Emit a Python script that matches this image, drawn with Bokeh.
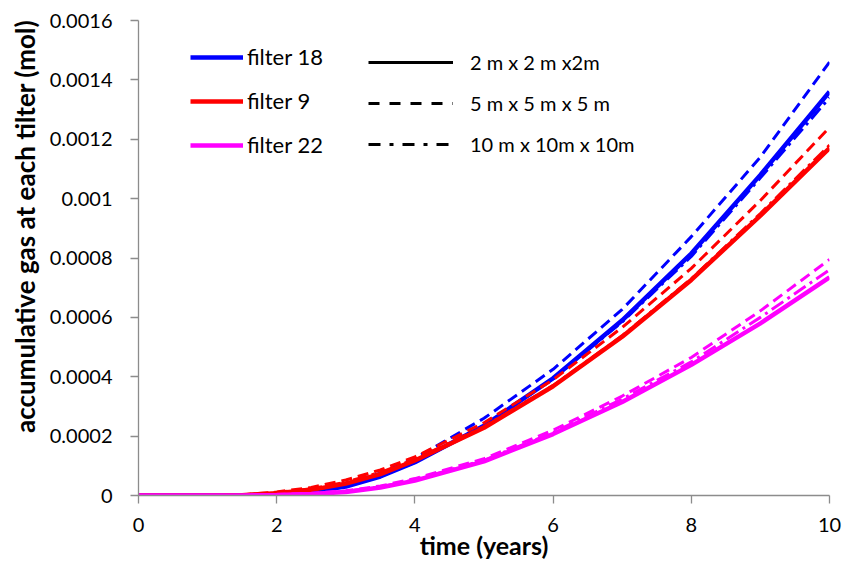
from bokeh.plotting import figure
from bokeh.models import Legend, LegendItem, Range1d, FixedTicker
from bokeh.embed import file_html
from bokeh.resources import INLINE

# ---------------- data ----------------
time = [0, 1, 1.5, 2, 2.5, 3, 3.5, 4, 5, 6, 7, 8, 9, 10]

f18_2m  = [0, 0, 0, 0.000005, 0.000013, 0.00003, 0.000064, 0.000112, 0.000235, 0.000395, 0.00059, 0.000815, 0.00108, 0.00136]
f18_5m  = [0, 0, 0, 0.000008, 0.00002, 0.00004, 0.000075, 0.000125, 0.00026, 0.000425, 0.000627, 0.000872, 0.00114, 0.00146]
f18_10m = [0, 0, 0, 0.000005, 0.000013, 0.00003, 0.000064, 0.000112, 0.000235, 0.000393, 0.000585, 0.000805, 0.00107, 0.00134]

f9_2m  = [0, 0, 0.000001, 0.000008, 0.000019, 0.00004, 0.000072, 0.000118, 0.000228, 0.000368, 0.000535, 0.000726, 0.000943, 0.00117]
f9_5m  = [0, 0, 0.000002, 0.000012, 0.000027, 0.000052, 0.000086, 0.00013, 0.000245, 0.00039, 0.000566, 0.000765, 0.000994, 0.00124]
f9_10m = [0, 0, 0.000001, 0.00001, 0.000023, 0.000045, 0.000078, 0.000122, 0.000232, 0.00037, 0.000538, 0.00073, 0.00095, 0.00118]

f22_2m  = [0, 0, 0, 0.000002, 0.000005, 0.000012, 0.000027, 0.00005, 0.000115, 0.000207, 0.000315, 0.00044, 0.00058, 0.000735]
f22_5m  = [0, 0, 0, 0.000003, 0.000007, 0.000016, 0.000032, 0.000057, 0.000124, 0.00022, 0.000335, 0.000465, 0.000622, 0.000795]
f22_10m = [0, 0, 0, 0.000002, 0.000006, 0.000014, 0.000029, 0.000053, 0.000119, 0.000212, 0.000325, 0.00045, 0.0006, 0.00076]

filter_labels = ["filter 18", "filter 9", "filter 22"]
mesh_labels = ["2 m x 2 m x2m", "5 m x 5 m x 5 m", "10 m x 10m x 10m"]

x_ticks = [0, 2, 4, 6, 8, 10]
y_ticks = [0, 0.0002, 0.0004, 0.0006, 0.0008, 0.001, 0.0012, 0.0014, 0.0016]
y_tick_labels = ["0", "0.0002", "0.0004", "0.0006", "0.0008", "0.001", "0.0012", "0.0014", "0.0016"]

x_title = "time (years)"
y_title = "accumulative gas at each tilter (mol)"

# ---------------- figure ----------------
FONT = "Lato"
p = figure(width=842, height=564, output_backend="svg", toolbar_location=None,
           x_range=Range1d(0, 10), y_range=Range1d(0, 0.0016),
           min_border_left=138, min_border_right=13, min_border_top=20, min_border_bottom=69)
p.outline_line_color = None
p.xgrid.visible = False
p.ygrid.visible = False
p.background_fill_color = "white"
p.border_fill_color = "white"

for ax in (p.xaxis[0], p.yaxis[0]):
    ax.axis_line_color = "#8c8c8c"
    ax.axis_line_width = 1.3
    ax.major_tick_line_color = "#8c8c8c"
    ax.major_tick_line_width = 1.3
    ax.major_tick_out = 8
    ax.major_tick_in = 0
    ax.minor_tick_out = 0
    ax.minor_tick_in = 0
    ax.major_label_text_font = FONT
    ax.major_label_text_font_size = "20px"
    ax.major_label_text_color = "black"
    ax.axis_label_text_font = FONT
    ax.axis_label_text_font_style = "bold"
    ax.axis_label_text_font_size = "26px"
    ax.axis_label_text_color = "black"

p.xaxis.ticker = FixedTicker(ticks=x_ticks)
p.xaxis.major_label_standoff = 14
p.xaxis.axis_label = x_title
p.xaxis.axis_label_text_font_size = "25px"
p.xaxis.axis_label_standoff = -5

p.yaxis.ticker = FixedTicker(ticks=y_ticks)
p.yaxis.major_label_overrides = {t: l for t, l in zip(y_ticks, y_tick_labels)}
p.yaxis.major_label_standoff = 18
# leading no-break spaces shift the (rotated) title upward, as in the original
p.yaxis.axis_label = "\u00a0" * 10 + y_title
p.yaxis.axis_label_standoff = 6

BLUE, RED, MAG = "#0000ff", "#ff0000", "#ff00ff"
DASH = "11 6"
DASHDOT = "14 5 3 5"

series = [
    (BLUE, f18_2m, f18_5m, f18_10m),
    (RED, f9_2m, f9_5m, f9_10m),
    (MAG, f22_2m, f22_5m, f22_10m),
]
solid_renderers = []
for color, s2, s5, s10 in series:
    r = p.line(time, s2, line_color=color, line_width=4.5)
    solid_renderers.append(r)
    p.line(time, s5, line_color=color, line_width=3, line_dash=DASH)
    p.line(time, s10, line_color=color, line_width=3, line_dash=DASHDOT)

# legend 1: filters
leg1 = Legend(items=[LegendItem(label=l, renderers=[r]) for l, r in zip(filter_labels, solid_renderers)],
              location=(52, 337))
# legend 2: mesh sizes (legend-only proxies, no visible data)
nan2 = [float("nan"), float("nan")]
dummy = [
    p.line(time[:2], nan2, line_color="black", line_width=3),
    p.line(time[:2], nan2, line_color="black", line_width=3, line_dash="11 10"),
    p.line(time[:2], nan2, line_color="black", line_width=3, line_dash="12 9 4 9"),
]
leg2 = Legend(items=[LegendItem(label=l, renderers=[r]) for l, r in zip(mesh_labels, dummy)],
              location=(230, 339))

for lg, gw, st, fs in ((leg1, 53, 4, "22px"), (leg2, 85, 17, "20px")):
    lg.glyph_width = gw
    lg.glyph_height = 22
    lg.label_height = 22
    lg.label_standoff = st
    lg.spacing = 17
    lg.padding = 0
    lg.margin = 0
    lg.border_line_alpha = 0
    lg.background_fill_alpha = 0
    lg.label_text_font = FONT
    lg.label_text_font_size = fs
    lg.label_text_color = "black"
    p.add_layout(lg, "center")

open("out.html", "w").write(file_html(p, INLINE))
